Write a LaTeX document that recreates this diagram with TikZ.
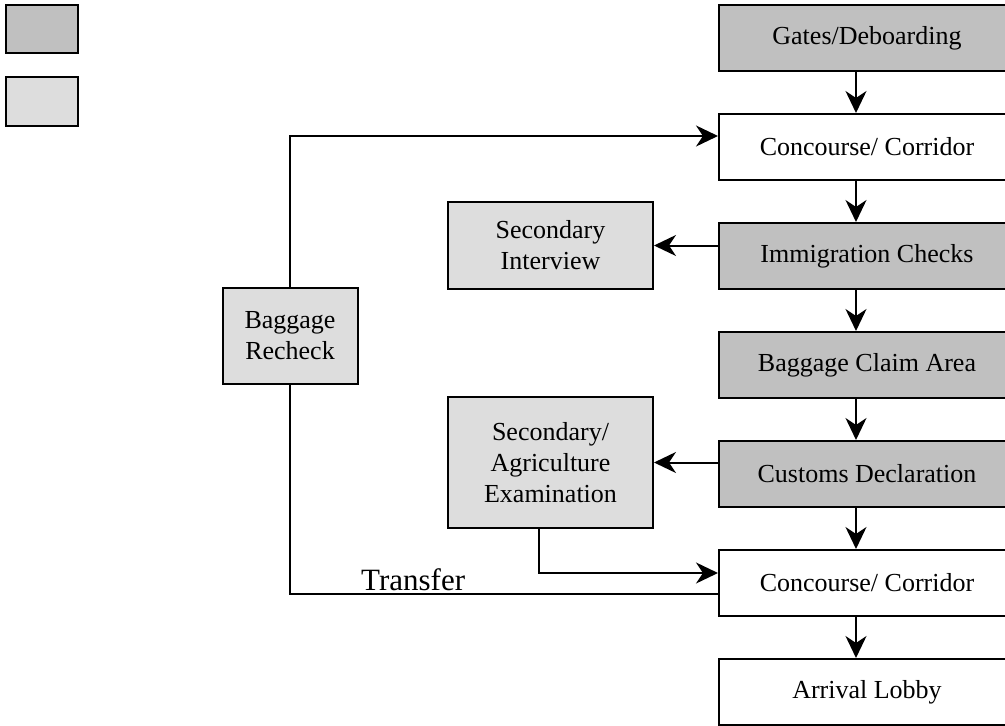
\documentclass[tikz,border=0pt]{standalone}
\usepackage{fontspec}
\setmainfont{Liberation Serif}
\usetikzlibrary{arrows.meta}
\definecolor{darkbox}{HTML}{C0C0C0}
\definecolor{lightbox}{HTML}{DDDDDD}
\tikzset{
  boxbase/.style={draw=black, line width=2pt, inner sep=0pt, align=center,
    font=\fontsize{26}{31}\selectfont},
  colbox/.style={boxbase, minimum width=296pt, minimum height=66pt},
  darkfill/.style={fill=darkbox},
  lightfill/.style={fill=lightbox},
  whitefill/.style={fill=white},
  arr/.style={line width=2pt, -{Stealth[length=22pt, width=21pt, inset=7pt]}},
  plain/.style={line width=2pt}
}
\begin{document}
\begin{tikzpicture}[x=1pt,y=-1pt]
\useasboundingbox (0,0) rectangle (1005,726);
\clip (0,0) rectangle (1005,726);
% legend
\node[boxbase, darkfill, minimum width=72pt, minimum height=48pt] (legdark) at (42,29) {};
\node[boxbase, lightfill, minimum width=72pt, minimum height=49pt] (leglight) at (42,101.5) {};
% main column
\node[colbox, darkfill] (gates) at (867,38) {Gates/Deboarding};
\node[colbox, whitefill] (conc1) at (867,147) {Concourse/ Corridor};
\node[colbox, darkfill] (immig) at (867,256) {Immigration Checks};
\node[colbox, darkfill] (claim) at (867,365) {Baggage Claim Area};
\node[colbox, darkfill] (customs) at (867,474) {Customs Declaration};
\node[colbox, whitefill] (conc2) at (867,583) {Concourse/ Corridor};
\node[colbox, whitefill] (lobby) at (867,692) {Arrival Lobby};
% side boxes
\node[boxbase, lightfill, minimum width=205pt, minimum height=87pt] (interview) at (550.5,245.5) {Secondary\\Interview};
\node[boxbase, lightfill, minimum width=205pt, minimum height=131pt] (agri) at (550.5,462.5) {Secondary/\\Agriculture\\Examination};
\node[boxbase, lightfill, minimum width=135pt, minimum height=96pt] (recheck) at (290,336) {Baggage\\Recheck};
% vertical arrows
\foreach \a/\b in {gates/conc1, conc1/immig, immig/claim, claim/customs, customs/conc2, conc2/lobby}
  \draw[arr] ([xshift=-11pt]\a.south) -- ([xshift=-11pt]\b.north);
% side arrows
\draw[arr] (immig.west |- interview.east) -- (interview.east);
\draw[arr] (customs.west |- agri.east) -- (agri.east);
\coordinate (agrturn) at (539,573);
\draw[arr] (agri.south -| agrturn) -- (agrturn) -- (agrturn -| conc2.west);
% recheck connections
\coordinate (rtop) at (290,136);
\coordinate (rbot) at (290,594);
\draw[arr] (recheck.north) -- (rtop) -- (rtop -| conc1.west);
\draw[plain] (recheck.south) -- (rbot) -- (rbot -| conc2.west);
\node[anchor=base west, inner sep=0pt, font=\fontsize{31}{36}\selectfont] (transfer) at (361,590) {Transfer};
\end{tikzpicture}
\end{document}
